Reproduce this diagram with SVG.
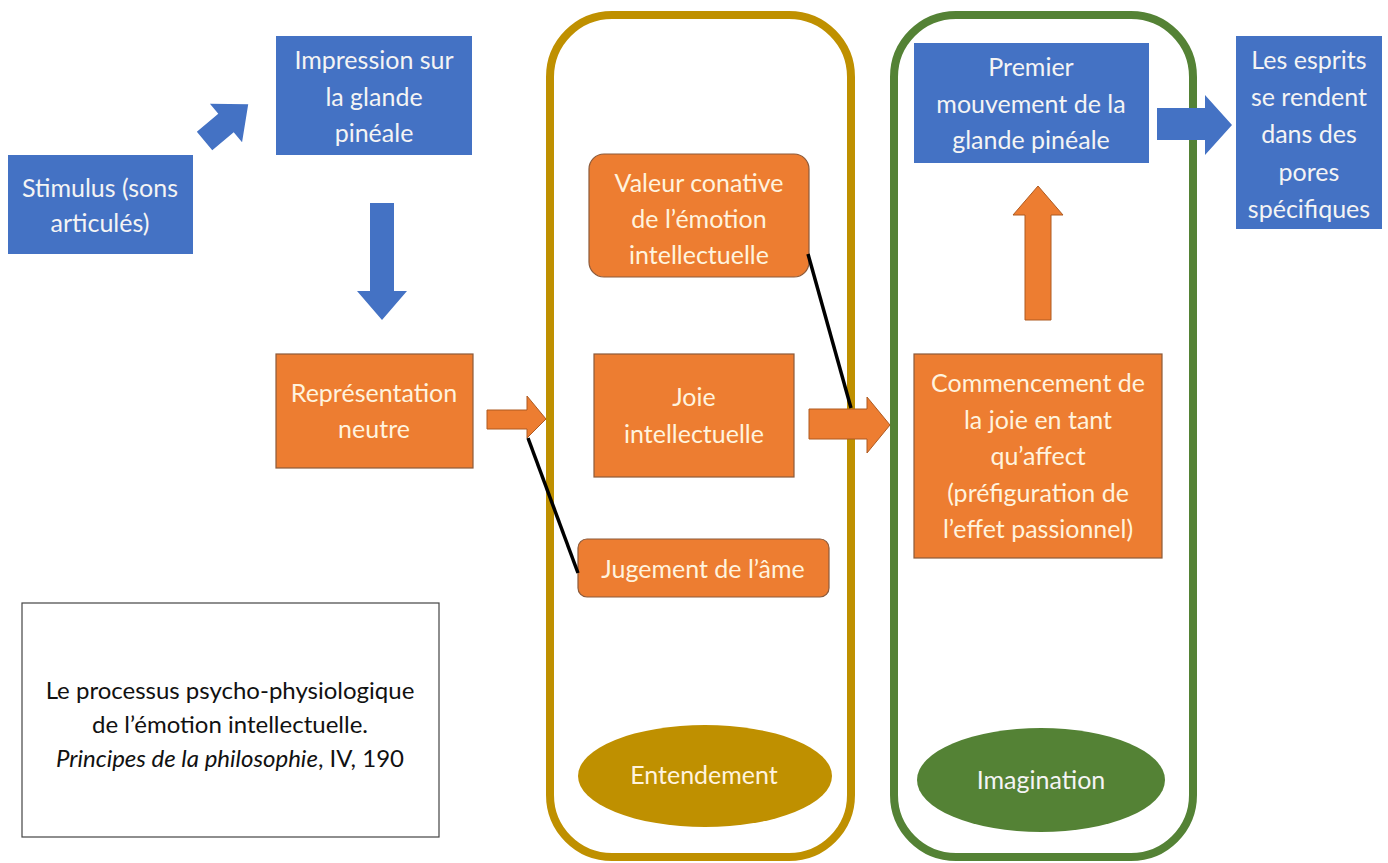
<svg xmlns="http://www.w3.org/2000/svg" width="1388" height="863" viewBox="0 0 1388 863">
<style>
.blue{fill:#4472C4;}
.orange{fill:#ED7D31;stroke:#8C5A3A;stroke-width:1.2;}
.arrO{fill:#ED7D31;stroke:#AE5A21;stroke-width:1;}
.arrB{fill:#4472C4;}
.t{font-family:Lato,"Liberation Sans",sans-serif;font-size:25px;text-anchor:middle;}
.tb{fill:#F4F4F4;}
.to{fill:#FFF3DE;}
.cap{font-family:Lato,"Liberation Sans",sans-serif;font-size:24px;text-anchor:middle;fill:#111;}
.link{stroke:#000;stroke-width:3.5;fill:none;}
</style>
<rect width="1388" height="863" fill="#fff"/>

<g id="container-entendement">
<rect x="550" y="15" width="301" height="842" rx="62" fill="none" stroke="#BF9000" stroke-width="8"/>
<ellipse cx="705" cy="776" rx="127" ry="51" fill="#BF9000"/>
<text class="t" x="704" y="784" fill="#FFF3DE">Entendement</text>
</g>
<g id="container-imagination">
<rect x="894" y="15" width="299" height="842" rx="62" fill="none" stroke="#548235" stroke-width="8"/>
<ellipse cx="1041" cy="780" rx="124" ry="52" fill="#548235"/>
<text class="t" x="1041" y="789" fill="#F4F4F4">Imagination</text>
</g>

<g id="stimulus">
<rect class="blue" x="8" y="155" width="185" height="99"/>
<text class="t tb" x="100" y="197">Stimulus (sons</text>
<text class="t tb" x="100" y="232">articulés)</text>
</g>
<g id="impression">
<rect class="blue" x="276" y="36" width="196" height="119"/>
<text class="t tb" x="374" y="69">Impression sur</text>
<text class="t tb" x="374" y="106">la glande</text>
<text class="t tb" x="374" y="142">pinéale</text>
</g>
<g id="representation">
<rect class="orange" x="276" y="354" width="197" height="114"/>
<text class="t to" x="374" y="402">Représentation</text>
<text class="t to" x="374" y="438">neutre</text>
</g>
<g id="valeur">
<rect class="orange" x="589" y="154" width="220" height="123" rx="15"/>
<text class="t to" x="699" y="192">Valeur conative</text>
<text class="t to" x="699" y="228">de l’émotion</text>
<text class="t to" x="699" y="264">intellectuelle</text>
</g>
<g id="joie">
<rect class="orange" x="594" y="354" width="200" height="123"/>
<text class="t to" x="694" y="406">Joie</text>
<text class="t to" x="694" y="443">intellectuelle</text>
</g>
<g id="jugement">
<rect class="orange" x="578" y="539" width="251" height="58" rx="9"/>
<text class="t to" x="703" y="578">Jugement de l’âme</text>
</g>
<g id="premier">
<rect class="blue" x="914" y="43" width="235" height="120"/>
<text class="t tb" x="1031" y="76">Premier</text>
<text class="t tb" x="1031" y="113">mouvement de la</text>
<text class="t tb" x="1031" y="149">glande pinéale</text>
</g>
<g id="esprits">
<rect class="blue" x="1236" y="36" width="146" height="193"/>
<text class="t tb" x="1309" y="69">Les esprits</text>
<text class="t tb" x="1309" y="106">se rendent</text>
<text class="t tb" x="1309" y="143">dans des</text>
<text class="t tb" x="1309" y="181">pores</text>
<text class="t tb" x="1309" y="218">spécifiques</text>
</g>
<g id="commencement">
<rect class="orange" x="914" y="354" width="248" height="204"/>
<text class="t to" x="1038" y="392">Commencement de</text>
<text class="t to" x="1038" y="429">la joie en tant</text>
<text class="t to" x="1038" y="465">qu’affect</text>
<text class="t to" x="1038" y="502">(préfiguration de</text>
<text class="t to" x="1038" y="538">l’effet passionnel)</text>
</g>
<g id="caption">
<rect x="22" y="603" width="417" height="234" fill="#fff" stroke="#444" stroke-width="1.2"/>
<text class="cap" x="230" y="699">Le processus psycho-physiologique</text>
<text class="cap" x="230" y="733">de l’émotion intellectuelle.</text>
<text class="cap" x="230" y="767"><tspan font-style="italic">Principes de la philosophie</tspan>, IV, 190</text>
</g>

<g id="connectors">
<polygon class="arrB" transform="translate(226,123) rotate(-40)" points="-28,-12 0,-12 0,-25 29,0 0,25 0,12 -28,12"/>
<polygon class="arrB" points="370,203 394,203 394,291 407,291 382,320 357,291 370,291"/>
<polygon class="arrO" points="487,410 527,410 527,396 546,419 527,438 527,429 487,429"/>
<line class="link" x1="528" y1="438" x2="578" y2="573"/>
<polygon class="arrO" points="809,409 867,409 867,397 890,425 867,453 867,439 809,439"/>
<line class="link" x1="808" y1="254" x2="851" y2="408"/>
<polygon class="arrO" points="1025,320 1051,320 1051,215 1063,215 1038,186 1013,215 1025,215"/>
<polygon class="arrB" points="1157,108 1205,108 1205,95 1232,125 1205,155 1205,140 1157,140"/>
</g>
</svg>
